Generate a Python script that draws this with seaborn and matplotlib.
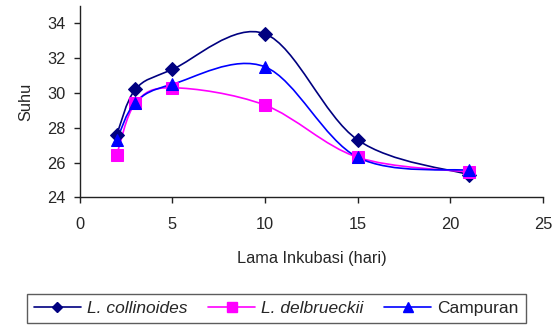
import numpy as np
import pandas as pd
import matplotlib
matplotlib.use("Agg")
import matplotlib.pyplot as plt
from matplotlib.path import Path
from matplotlib.patches import PathPatch
from matplotlib.lines import Line2D
import seaborn as sns

# ---- data ----
days = [2, 3, 5, 10, 15, 21]
collinoides = [27.6, 30.2, 31.35, 33.4, 27.3, 25.3]
delbrueckii = [26.45, 29.4, 30.3, 29.3, 26.3, 25.45]
campuran = [27.3, 29.45, 30.5, 31.5, 26.3, 25.55]
series_names = ["L. collinoides", "L. delbrueckii", "Campuran"]
series_values = [collinoides, delbrueckii, campuran]
colors = ["#000080", "#FF00FF", "#0000FF"]
markers = ["D", "s", "^"]
marker_sizes = [7, 8, 9]
legend_marker_sizes = [5.5, 6.5, 7.5]
xticks = [0, 5, 10, 15, 20, 25]
yticks = [24, 26, 28, 30, 32, 34]

sns.set_style("white")
plt.rcParams["font.family"] = ["Liberation Sans", "DejaVu Sans"]

FS = 11.8
LFS = 12.5

fig = plt.figure(figsize=(5.58, 3.26), dpi=100)
ax = fig.add_axes([79.7 / 558, 1 - 197.3 / 326, (543 - 79.7) / 558, (197.3 - 6) / 326])


def smooth_path(xs, ys):
    # Excel-like smoothed line: cubic Bezier segments (Catmull-Rom control points)
    pts = np.column_stack([xs, ys]).astype(float)
    n = len(pts)
    verts = [pts[0]]
    codes = [Path.MOVETO]
    for i in range(n - 1):
        p0 = pts[i - 1] if i > 0 else pts[i]
        p1 = pts[i]
        p2 = pts[i + 1]
        p3 = pts[i + 2] if i + 2 < n else pts[i + 1]
        c1 = p1 + (p2 - p0) / 6.0
        c2 = p2 - (p3 - p1) / 6.0
        verts += [c1, c2, p2]
        codes += [Path.CURVE4] * 3
    return Path(verts, codes)


df = pd.DataFrame({
    "Lama": days * 3,
    "Suhu": collinoides + delbrueckii + campuran,
    "Seri": [s for s in series_names for _ in days],
})

for name, vals, col in zip(series_names, series_values, colors):
    patch = PathPatch(smooth_path(days, vals), facecolor="none", edgecolor=col, lw=1.2, zorder=2)
    ax.add_patch(patch)

for name, col, mk, ms in zip(series_names, colors, markers, marker_sizes):
    sub = df[df["Seri"] == name]
    sns.lineplot(data=sub, x="Lama", y="Suhu", ax=ax, color=col, marker=mk,
                 markersize=ms, markeredgecolor=col, linestyle="", legend=False, zorder=3)

ax.set_xlim(0, 25)
ax.set_ylim(24, 35)
ax.set_xticks(xticks)
ax.set_yticks(yticks)
ax.set_xticklabels([str(t) for t in xticks])
ax.set_yticklabels([str(t) for t in yticks])
for s in ["top", "right"]:
    ax.spines[s].set_visible(False)
for s in ["left", "bottom"]:
    ax.spines[s].set_color("#222222")
    ax.spines[s].set_linewidth(1.0)
ax.tick_params(axis="x", direction="out", length=4, width=1, color="#222222", pad=10, labelsize=FS, bottom=True)
ax.tick_params(axis="y", direction="out", length=4, width=1, color="#222222", pad=6, labelsize=FS, left=True)
ax.set_xlabel("Lama Inkubasi (hari)", fontsize=FS, labelpad=14)
ax.set_ylabel("Suhu", fontsize=FS, labelpad=10)
ax.grid(False)

handles = [Line2D([0], [0], color=c, marker=m, markersize=ms, lw=1.2, markeredgecolor=c)
           for c, m, ms in zip(colors, markers, legend_marker_sizes)]
leg = fig.legend(handles, series_names, loc="upper left",
                 bbox_to_anchor=(27 / 558, 1 - 294 / 326), ncol=3, frameon=True,
                 fancybox=False, edgecolor="#333333", fontsize=LFS,
                 handlelength=2.7, handletextpad=0.35, columnspacing=1.2,
                 borderpad=0.4, borderaxespad=0)
leg.get_frame().set_linewidth(1.0)
for t in leg.get_texts()[:2]:
    t.set_fontstyle("italic")

fig.savefig("out.png", dpi=100)
